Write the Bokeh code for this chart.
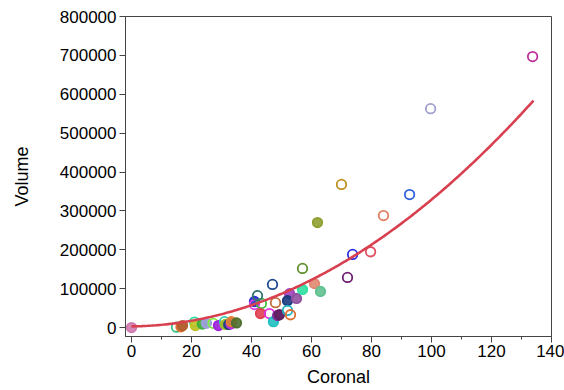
import numpy as np
from bokeh.plotting import figure
from bokeh.models import ColumnDataSource, Range1d, SingleIntervalTicker, BasicTickFormatter
from bokeh.embed import file_html
from bokeh.resources import INLINE

# Measurements: coronal diameter vs. volume
coronal = [0, 15, 16.5, 17, 21, 21.3, 23.6, 25, 27.2, 29, 31, 31.3, 32.4, 33.2, 33.3, 35,
           41, 41, 43.3, 42, 47, 48, 52.7, 52, 55, 43, 46, 47.3, 48.7, 49.3, 52, 53,
           57, 57, 61, 63, 62, 70, 72, 73.7, 79.7, 84, 92.7, 99.7, 133.7]
volume = [0, 1000, 2000, 5000, 14000, 5000, 9000, 11000, 11000, 5000, 15000, 8000, 8000, 9500, 15000, 12000,
          67000, 59000, 62000, 82000, 111000, 64000, 87000, 69000, 75000, 36000, 36000, 15000, 31000, 33000, 44000, 33000,
          152000, 98000, 113000, 93000, 270000, 368000, 129000, 188000, 195000, 288000, 342000, 563000, 697000]
colors = ["#d07ab0", "#30c080", "#e07030", "#b06030", "#30e0a0", "#c0c020", "#40b040", "#a0a0e0", "#80f040",
          "#a020e0", "#30d0b0", "#a0c020", "#204080", "#c030e0", "#e08030", "#507030",
          "#3030d0", "#e040e0", "#40c040", "#307070", "#204a90", "#c07040", "#a040c0", "#1a3a80", "#9050a0",
          "#e04050", "#e030e0", "#20c0c0", "#8030a0", "#602060", "#20b0c0", "#e07030",
          "#609030", "#30e0a0", "#e08870", "#60c090", "#90a030", "#c09020", "#702070", "#3030e0",
          "#e05060", "#e08060", "#3060e0", "#a0a0d0", "#c0309a"]
filled = [True, False, True, True, False, True, True, True, False, True, False, True, True, True, True, True,
          True, False, False, False, False, False, True, True, True, True, False, True, True, True, False, False,
          False, True, True, True, True, False, False, False, False, False, False, False, False]

# Quadratic fit: volume = c0 + c1*x + c2*x^2
fit_coef = [3000, 100, 31.6]
fit_x_end = 134

p = figure(width=564, height=390, output_backend="svg", toolbar_location=None,
           x_range=Range1d(-2, 140), y_range=Range1d(-23000, 800000),
           min_border_left=125, min_border_right=13, min_border_top=16, min_border_bottom=54)
p.frame_width = 426
p.frame_height = 320
p.background_fill_color = "white"
p.border_fill_color = "white"
p.outline_line_color = "#444444"
p.outline_line_width = 1
p.grid.visible = False

font = "Liberation Sans"
for ax in (p.xaxis[0], p.yaxis[0]):
    ax.axis_line_color = "#444444"
    ax.major_tick_line_color = "#444444"
    ax.minor_tick_line_color = "#444444"
    ax.major_tick_out = 6
    ax.major_tick_in = 0
    ax.minor_tick_out = 3
    ax.minor_tick_in = 0
    ax.major_label_text_font = font
    ax.major_label_text_font_size = "17px"
    ax.major_label_text_color = "black"
    ax.axis_label_text_font = font
    ax.axis_label_text_font_size = "18px"
    ax.axis_label_text_font_style = "normal"
    ax.axis_label_text_color = "black"

p.xaxis[0].ticker = SingleIntervalTicker(interval=20, num_minor_ticks=2)
p.yaxis[0].ticker = SingleIntervalTicker(interval=100000, num_minor_ticks=0)
p.yaxis[0].formatter = BasicTickFormatter(use_scientific=False)
p.xaxis[0].axis_label = "Coronal"
p.yaxis[0].axis_label = "Volume"
p.xaxis[0].major_label_standoff = 2
p.xaxis[0].axis_label_standoff = 7
p.yaxis[0].major_label_standoff = 3
p.yaxis[0].axis_label_standoff = 25

src = ColumnDataSource(dict(
    x=coronal, y=volume, c=colors,
    fill=[c if f else "white" for c, f in zip(colors, filled)],
    alpha=[0.9 if f else 0.0 for f in filled],
))
p.scatter("x", "y", source=src, size=9.5, marker="circle",
          line_color="c", line_width=1.8, fill_color="fill", fill_alpha="alpha")

fx = np.linspace(0, fit_x_end, 200)
fy = fit_coef[0] + fit_coef[1] * fx + fit_coef[2] * fx ** 2
p.line(fx, fy, line_color="#d8404f", line_width=2.6)

open("out.html", "w").write(file_html(p, INLINE))
